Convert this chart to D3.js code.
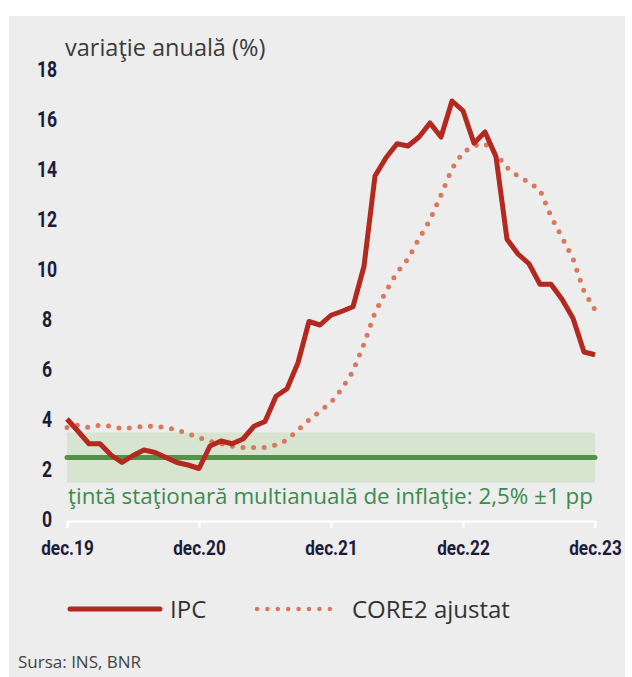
<!DOCTYPE html>
<html><head><meta charset="utf-8">
<script src="https://cdn.jsdelivr.net/npm/d3@7"></script>
<style>body{margin:0;background:#fff;}svg{display:block;}</style>
</head><body>
<svg id="c" width="632" height="677"></svg>
<script>
const tickLabels = ["dec.19","dec.20","dec.21","dec.22","dec.23"];
const tickMonths = [0,12,24,36,48];
const yTicks = [0,2,4,6,8,10,12,14,16,18];
const ipc = [4.04, 3.55, 3.05, 3.05, 2.60, 2.30, 2.58, 2.80, 2.70, 2.50, 2.30, 2.20, 2.06,
  2.96, 3.16, 3.05, 3.24, 3.75, 3.94, 4.95, 5.25, 6.29, 7.94, 7.80, 8.19,
  8.35, 8.53, 10.15, 13.76, 14.49, 15.05, 14.96, 15.32, 15.88, 15.32, 16.76, 16.37,
  15.07, 15.52, 14.53, 11.23, 10.64, 10.25, 9.43, 9.43, 8.83, 8.07, 6.72, 6.61];
const core2 = [3.7, 3.8, 3.7, 3.8, 3.75, 3.65, 3.7, 3.75, 3.75, 3.7, 3.6, 3.45, 3.3,
  3.15, 3.05, 2.95, 2.9, 2.9, 2.9, 3.0, 3.2, 3.6, 4.0, 4.35, 4.7,
  5.25, 5.95, 7.05, 8.3, 9.15, 9.9, 10.45, 11.25, 12.0, 13.0, 14.05, 14.7,
  14.97, 15.05, 14.65, 14.1, 13.75, 13.5, 13.2, 12.15, 11.3, 10.45, 9.15, 8.4];
const target = 2.5, band = [1.5, 3.5];
const seriesNames = ["IPC", "CORE2 ajustat"];

const svg = d3.select("#c");
svg.append("rect").attr("x",9).attr("y",16).attr("width",616).attr("height",661).attr("fill","#ededed");

const x = d3.scaleLinear().domain([0,48]).range([67,595]);
const y = d3.scaleLinear().domain([0,18]).range([520,70]);

// band
svg.append("rect").attr("x",x(0)).attr("width",x(48)-x(0))
  .attr("y",y(band[1])).attr("height",y(band[0])-y(band[1])).attr("fill","#d6e4d0");
svg.append("line").attr("x1",x(0)).attr("x2",x(48)).attr("y1",y(target)).attr("y2",y(target))
  .attr("stroke","#519349").attr("stroke-width",5).attr("stroke-linecap","round");
svg.append("text").attr("x",x(0)+1).attr("y",504)
  .attr("font-family","Open Sans").attr("font-size",22.4).attr("fill","#3b8c4c")
  .text("ţintă staţionară multianuală de inflaţie: 2,5% ±1 pp");

// axis
const xa = svg.append("g").attr("transform",`translate(0,${y(0)+1})`)
  .call(d3.axisBottom(x).tickValues(tickMonths).tickSize(7).tickFormat((d,i)=>tickLabels[i]));
xa.select(".domain").attr("stroke","#fff").attr("stroke-width",2);
xa.selectAll(".tick line").attr("stroke","#fff").attr("stroke-width",2);
xa.selectAll(".tick text").attr("font-family","Roboto").attr("font-weight","bold")
  .attr("font-size",20).attr("fill","#1c1c3a").attr("dy","1.2em")
  .attr("transform","scale(0.86,1)");

const ya = svg.append("g");
ya.selectAll("g").data(yTicks).join("g")
  .attr("transform",d=>`translate(47,${y(d)-1})`)
  .append("text").attr("dy","0.36em").attr("text-anchor","middle")
  .attr("transform","scale(0.8,1)")
  .attr("font-family","Roboto").attr("font-weight","bold")
  .attr("font-size",22).attr("fill","#1c1c3a").text(d=>d);

svg.append("text").attr("x",65).attr("y",56).attr("font-family","Open Sans")
  .attr("font-size",23.5).attr("fill","#3a3a3a").text("variaţie anuală (%)");

const line = d3.line().x((d,i)=>x(i)).y(d=>y(d));
svg.append("path").datum(core2).attr("d",line).attr("fill","none")
  .attr("stroke","#d9785c").attr("stroke-width",5).attr("stroke-linecap","round")
  .attr("stroke-dasharray","0,10.6");
svg.append("path").datum(ipc).attr("d",line).attr("fill","none")
  .attr("stroke","#b3281f").attr("stroke-width",5).attr("stroke-linejoin","round");

// legend
const lg = svg.append("g");
lg.append("line").attr("x1",70).attr("x2",160).attr("y1",609).attr("y2",609)
  .attr("stroke","#b3281f").attr("stroke-width",5).attr("stroke-linecap","round");
lg.append("text").attr("x",170).attr("y",618).attr("font-family","Open Sans")
  .attr("font-size",24).attr("fill","#333").text(seriesNames[0]);
lg.append("line").attr("x1",257).attr("x2",340).attr("y1",609).attr("y2",609)
  .attr("stroke","#d9785c").attr("stroke-width",4.5).attr("stroke-linecap","round")
  .attr("stroke-dasharray","0,10.4");
lg.append("text").attr("x",352).attr("y",618).attr("font-family","Open Sans")
  .attr("font-size",24).attr("fill","#333").text(seriesNames[1]);

svg.append("text").attr("x",18).attr("y",668).attr("font-family","Open Sans")
  .attr("font-size",17).attr("fill","#444").text("Sursa: INS, BNR");
</script>
</body></html>
